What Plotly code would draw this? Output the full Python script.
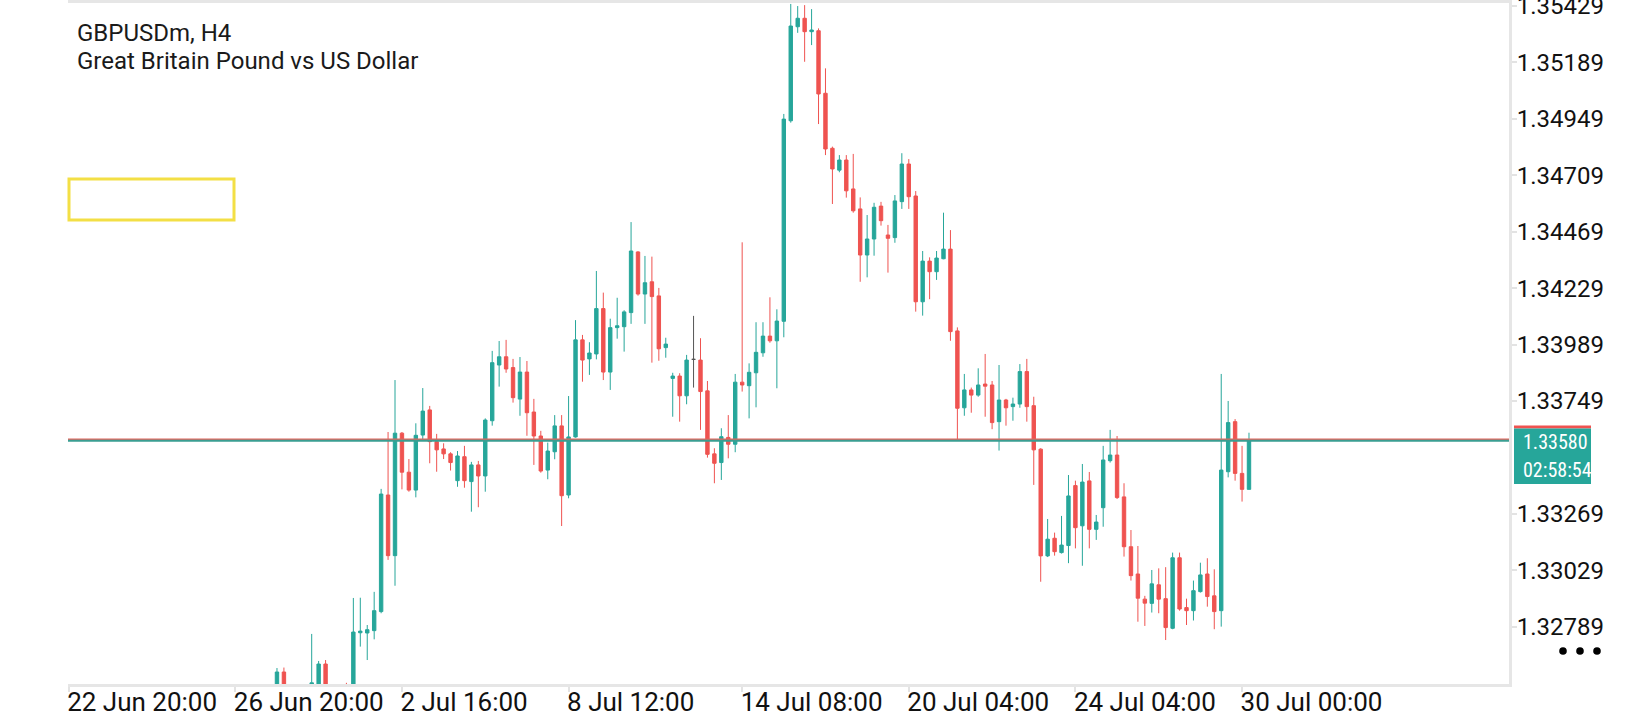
import numpy as np
import plotly.graph_objects as go

# GBPUSDm H4 candles, bar 0 = 22 Jun 20:00 (left edge of the view)
first_bar = 30

open_ = [
    1.32530, 1.32596, 1.32520, 1.32460, 1.32500, 1.32480, 1.32520, 1.32630, 1.32500, 1.32440,  # 30-39
    1.32510, 1.32470, 1.32763, 1.32762, 1.32772, 1.32853, 1.33349, 1.33091, 1.33612, 1.33446,  # 40-49
    1.33370, 1.33604, 1.33711, 1.33576, 1.33545, 1.33524, 1.33410, 1.33512, 1.33406, 1.33477,  # 50-59
    1.33430, 1.33665, 1.33902, 1.33937, 1.33891, 1.33757, 1.33872, 1.33702, 1.33600, 1.33455,  # 60-69
    1.33533, 1.33643, 1.33349, 1.33596, 1.34009, 1.33928, 1.33949, 1.34142, 1.33872, 1.34061,  # 70-79
    1.34065, 1.34125, 1.34383, 1.34204, 1.34256, 1.34196, 1.33976, 1.33845, 1.33855, 1.33771,  # 80-89
    1.33926, 1.33923, 1.33792, 1.33524, 1.33487, 1.33594, 1.33565, 1.33829, 1.33814, 1.33869,  # 90-99
    1.33954, 1.34025, 1.34005, 1.34088, 1.34941, 1.35341, 1.35377, 1.35320, 1.35324, 1.35058,  # 100-109
    1.34824, 1.34731, 1.34774, 1.34651, 1.34566, 1.34370, 1.34438, 1.34578, 1.34455, 1.34444,  # 110-119
    1.34597, 1.34757, 1.34621, 1.34171, 1.34344, 1.34299, 1.34354, 1.34395, 1.34047, 1.33720,  # 120-129
    1.33796, 1.33774, 1.33821, 1.33817, 1.33661, 1.33753, 1.33725, 1.33736, 1.33874, 1.33729,  # 130-139
    1.33544, 1.33090, 1.33165, 1.33104, 1.33134, 1.33389, 1.33218, 1.33409, 1.33203, 1.33295,  # 140-149
    1.33495, 1.33519, 1.33341, 1.33129, 1.33013, 1.32906, 1.32888, 1.32967, 1.32908, 1.32782,  # 150-159
    1.33082, 1.32870, 1.32857, 1.32938, 1.33013, 1.32920, 1.32857, 1.33448, 1.33661, 1.33441,  # 160-169
    1.33373,                                                                                    # 170
]
high = [
    1.32613, 1.32615, 1.32535, 1.32530, 1.32540, 1.32758, 1.32643, 1.32647, 1.32535, 1.32530,
    1.32550, 1.32911, 1.32912, 1.32796, 1.32937, 1.33375, 1.33617, 1.33838, 1.33617, 1.33502,
    1.33654, 1.33804, 1.33728, 1.33609, 1.33569, 1.33531, 1.33536, 1.33558, 1.33490, 1.33494,
    1.33675, 1.33962, 1.34004, 1.34009, 1.33928, 1.33936, 1.33919, 1.33758, 1.33622, 1.33572,
    1.33689, 1.33689, 1.33770, 1.34093, 1.34030, 1.33999, 1.34302, 1.34210, 1.34099, 1.34188,
    1.34135, 1.34510, 1.34386, 1.34366, 1.34363, 1.34230, 1.34018, 1.33869, 1.33867, 1.33945,
    1.34111, 1.34016, 1.33834, 1.33548, 1.33633, 1.33689, 1.33864, 1.34424, 1.33909, 1.34084,
    1.34084, 1.34190, 1.34139, 1.34970, 1.35438, 1.35429, 1.35433, 1.35416, 1.35334, 1.35164,
    1.34831, 1.34795, 1.34795, 1.34800, 1.34615, 1.34540, 1.34592, 1.34596, 1.34498, 1.34625,
    1.34803, 1.34778, 1.34642, 1.34387, 1.34360, 1.34387, 1.34550, 1.34476, 1.34062, 1.33864,
    1.33806, 1.33888, 1.33949, 1.33834, 1.33902, 1.33758, 1.33763, 1.33906, 1.33928, 1.33767,
    1.33548, 1.33247, 1.33189, 1.33260, 1.33434, 1.33410, 1.33481, 1.33447, 1.33264, 1.33558,
    1.33626, 1.33600, 1.33399, 1.33200, 1.33132, 1.32920, 1.33030, 1.33037, 1.33042, 1.33104,
    1.33104, 1.32908, 1.32985, 1.33061, 1.33080, 1.33033, 1.33864, 1.33749, 1.33672, 1.33558,
    1.33614,
]
low = [
    1.32500, 1.32480, 1.32440, 1.32420, 1.32450, 1.32460, 1.32500, 1.32480, 1.32420, 1.32400,
    1.32450, 1.32450, 1.32704, 1.32647, 1.32735, 1.32846, 1.33073, 1.32963, 1.33373, 1.33363,
    1.33339, 1.33583, 1.33484, 1.33448, 1.33502, 1.33453, 1.33384, 1.33380, 1.33278, 1.33297,
    1.33363, 1.33644, 1.33810, 1.33869, 1.33742, 1.33686, 1.33601, 1.33477, 1.33444, 1.33416,
    1.33501, 1.33217, 1.33335, 1.33593, 1.33831, 1.33860, 1.33926, 1.33838, 1.33796, 1.34014,
    1.33959, 1.34077, 1.34197, 1.34077, 1.33912, 1.33920, 1.33933, 1.33682, 1.33661, 1.33735,
    1.33806, 1.33626, 1.33508, 1.33399, 1.33413, 1.33505, 1.33531, 1.33789, 1.33675, 1.33722,
    1.33937, 1.33997, 1.33803, 1.34020, 1.34933, 1.35315, 1.35192, 1.35263, 1.34927, 1.34795,
    1.34587, 1.34722, 1.34614, 1.34550, 1.34256, 1.34275, 1.34367, 1.34495, 1.34295, 1.34422,
    1.34566, 1.34566, 1.34129, 1.34112, 1.34182, 1.34264, 1.34352, 1.34005, 1.33587, 1.33686,
    1.33699, 1.33767, 1.33682, 1.33629, 1.33538, 1.33644, 1.33665, 1.33720, 1.33661, 1.33392,
    1.32980, 1.33085, 1.33091, 1.33100, 1.33059, 1.33122, 1.33048, 1.33122, 1.33158, 1.33214,
    1.33487, 1.33332, 1.33087, 1.32985, 1.32810, 1.32792, 1.32849, 1.32846, 1.32732, 1.32778,
    1.32857, 1.32796, 1.32815, 1.32934, 1.32874, 1.32778, 1.32789, 1.33424, 1.33410, 1.33321,
    1.33373,
]
close = [
    1.32596, 1.32520, 1.32460, 1.32500, 1.32480, 1.32550, 1.32630, 1.32500, 1.32440, 1.32510,
    1.32470, 1.32766, 1.32770, 1.32776, 1.32857, 1.33353, 1.33091, 1.33612, 1.33446, 1.33370,
    1.33603, 1.33706, 1.33576, 1.33541, 1.33524, 1.33487, 1.33515, 1.33410, 1.33477, 1.33430,
    1.33668, 1.33912, 1.33937, 1.33885, 1.33763, 1.33872, 1.33699, 1.33600, 1.33451, 1.33536,
    1.33643, 1.33346, 1.33596, 1.34009, 1.33923, 1.33953, 1.34142, 1.33872, 1.34061, 1.34069,
    1.34128, 1.34387, 1.34204, 1.34252, 1.34193, 1.33971, 1.33991, 1.33855, 1.33771, 1.33923,
    1.33926, 1.33789, 1.33522, 1.33484, 1.33597, 1.33565, 1.33829, 1.33817, 1.33871, 1.33956,
    1.34025, 1.34005, 1.34089, 1.34948, 1.35344, 1.35377, 1.35320, 1.35327, 1.35055, 1.34821,
    1.34736, 1.34774, 1.34643, 1.34558, 1.34370, 1.34438, 1.34573, 1.34516, 1.34441, 1.34600,
    1.34757, 1.34618, 1.34171, 1.34344, 1.34299, 1.34357, 1.34395, 1.34044, 1.33718, 1.33796,
    1.33774, 1.33817, 1.33812, 1.33657, 1.33753, 1.33720, 1.33736, 1.33874, 1.33725, 1.33541,
    1.33090, 1.33161, 1.33108, 1.33136, 1.33345, 1.33210, 1.33404, 1.33203, 1.33234, 1.33498,
    1.33519, 1.33338, 1.33129, 1.33006, 1.32910, 1.32889, 1.32971, 1.32906, 1.32785, 1.33082,
    1.32864, 1.32857, 1.32942, 1.33009, 1.32917, 1.32853, 1.33455, 1.33657, 1.33441, 1.33373,
    1.33580,
]

bid = 1.33580
ask = 1.33585
countdown = "02:58:54"

# 1.33509 sits under the price tag, so it is not labelled
price_ticks = [1.35429, 1.35189, 1.34949, 1.34709, 1.34469, 1.34229,
               1.33989, 1.33749, 1.33269, 1.33029, 1.32789]
time_tick_bars = [0, 24, 48, 72, 97, 121, 145, 169]
time_tick_labels = ["22 Jun 20:00", "26 Jun 20:00", "2 Jul 16:00", "8 Jul 12:00",
                    "14 Jul 08:00", "20 Jul 04:00", "24 Jul 04:00", "30 Jul 00:00"]

GREEN = "#26a69a"
RED = "#ef5350"

# page geometry (pixels) -> paper coords for the overlay boxes
W, H = 1640, 720
ML, MR, MT, MB = 68, 131, 3, 36


def px(x):
    return (x - ML) / (W - ML - MR)


def py(y):
    return (H - MB - y) / (H - MT - MB)


o = np.array(open_)
h = np.array(high)
l = np.array(low)
c = np.array(close)
bars = np.arange(first_bar, first_bar + len(o))
doji = o == c

fig = go.Figure()

fig.add_trace(go.Candlestick(
    x=bars[~doji], open=o[~doji], high=h[~doji], low=l[~doji], close=c[~doji],
    increasing=dict(line=dict(color=GREEN, width=1), fillcolor=GREEN),
    decreasing=dict(line=dict(color=RED, width=1), fillcolor=RED),
    whiskerwidth=0, hoverinfo="skip",
))
fig.add_trace(go.Candlestick(
    x=bars[doji], open=o[doji], high=h[doji], low=l[doji], close=c[doji],
    increasing=dict(line=dict(color="#555555", width=1), fillcolor="#555555"),
    decreasing=dict(line=dict(color="#555555", width=1), fillcolor="#555555"),
    whiskerwidth=0, hoverinfo="skip",
))

# ask / bid lines
fig.add_shape(type="line", xref="paper", yref="y", x0=0, x1=1, y0=ask, y1=ask,
              line=dict(color="#e0675f", width=2), layer="above")
fig.add_shape(type="line", xref="paper", yref="y", x0=0, x1=1, y0=bid, y1=bid,
              line=dict(color="#3a9e92", width=2), layer="above")

# price tag on the right axis
fig.add_shape(type="rect", xref="paper", yref="paper",
              x0=px(1514), x1=px(1591), y0=py(428.5), y1=py(425.5),
              fillcolor=RED, line=dict(width=0), layer="above")
fig.add_shape(type="rect", xref="paper", yref="paper",
              x0=px(1514), x1=px(1591), y0=py(484), y1=py(428.5),
              fillcolor=GREEN, line=dict(width=0), layer="above")
tag_font = dict(family="Liberation Sans Narrow, Roboto Condensed, DejaVu Sans Condensed, Roboto",
                size=20, color="white")
fig.add_annotation(xref="paper", yref="paper", x=px(1521), y=py(442), text=f"{bid:.5f}",
                   showarrow=False, xanchor="left", yanchor="middle", font=tag_font)
fig.add_annotation(xref="paper", yref="paper", x=px(1521), y=py(470), text=countdown,
                   showarrow=False, xanchor="left", yanchor="middle", font=tag_font)

# yellow empty box
fig.add_shape(type="rect", xref="paper", yref="paper",
              x0=px(69), x1=px(234), y0=py(220), y1=py(179),
              line=dict(color="#f3df45", width=3), fillcolor="rgba(0,0,0,0)", layer="above")

# symbol header
fig.add_annotation(xref="paper", yref="paper", x=px(75), y=py(33), text="GBPUSDm, H4",
                   showarrow=False, xanchor="left", yanchor="middle",
                   font=dict(family="Roboto", size=24, color="#1a1a1a"))
fig.add_annotation(xref="paper", yref="paper", x=px(75), y=py(61), text="Great Britain Pound vs US Dollar",
                   showarrow=False, xanchor="left", yanchor="middle",
                   font=dict(family="Roboto", size=24, color="#1a1a1a"))

# three dots menu
for dx in (1563, 1580, 1597):
    fig.add_shape(type="circle", xref="paper", yref="paper",
                  x0=px(dx - 3.8), x1=px(dx + 3.8), y0=py(654.8), y1=py(647.2),
                  fillcolor="black", line=dict(width=0))

fig.update_layout(
    width=W, height=H,
    margin=dict(l=ML, r=MR, t=MT, b=MB, autoexpand=False),
    paper_bgcolor="white", plot_bgcolor="white",
    showlegend=False,
    font=dict(family="Roboto", color="#1a1a1a"),
    xaxis=dict(
        range=[-0.1, 207.45],
        tickvals=time_tick_bars, ticktext=time_tick_labels,
        ticks="outside", ticklen=5, tickwidth=2, tickcolor="#e3e3e3",
        ticklabelposition="outside right", ticklabelshift=-4, ticklabelstandoff=-7,
        ticklabeloverflow="allow",
        tickfont=dict(family="Roboto", size=26, color="#111111"),
        showline=True, linecolor="#e6e6e6", linewidth=3, mirror=True,
        showgrid=False, zeroline=False, automargin=False,
        rangeslider=dict(visible=False),
    ),
    yaxis=dict(
        side="right",
        range=[1.32545, 1.35442],
        tickvals=price_ticks, ticktext=[f"{v:.5f}" for v in price_ticks],
        ticks="outside", ticklen=5, tickwidth=2, tickcolor="#e3e3e3",
        ticklabelstandoff=-5, ticklabeloverflow="allow",
        tickfont=dict(family="Roboto", size=24, color="#111111"),
        showline=True, linecolor="#e6e6e6", linewidth=3,
        showgrid=False, zeroline=False, automargin=False,
    ),
)

# the page body has an 8px default margin; drop it so the figure sits at the window corner
fig.write_html("out.html", config={"displayModeBar": False},
               post_script="document.body.style.margin='0';")
